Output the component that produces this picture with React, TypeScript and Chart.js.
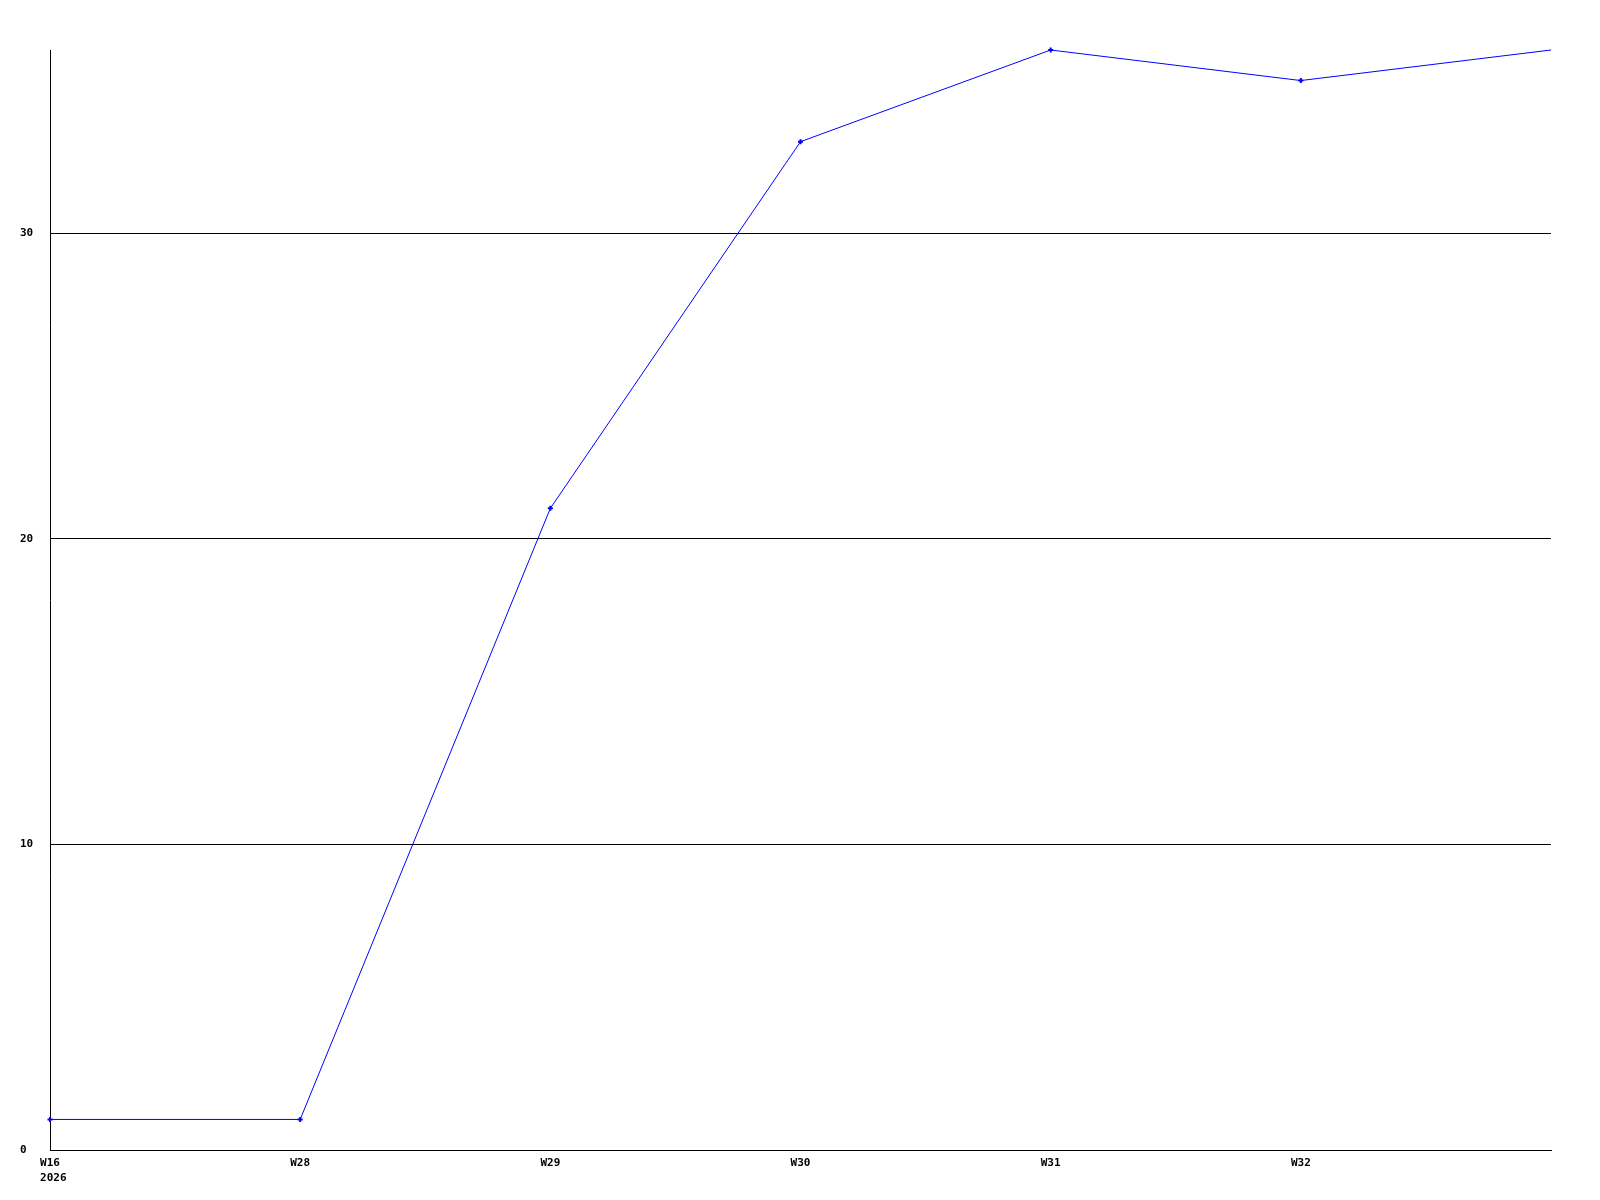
import React, { useEffect, useRef } from "react";
import { Chart, registerables } from "chart.js";

Chart.register(...registerables);

const weekLabels: (string | string[])[] = [["W16", " 2026"], "W28", "W29", "W30", "W31", "W32", ""];
const seriesValues: number[] = [1, 1, 21, 33, 36, 35, 36];
const yTickValues: number[] = [0, 10, 20, 30];

export default function App() {
  const ref = useRef<HTMLCanvasElement | null>(null);

  useEffect(() => {
    document.body.style.margin = "0";
    const canvas = ref.current;
    if (!canvas) return;
    const font = { family: "'DejaVu Sans Mono', monospace", size: 11, weight: "bold" as const, lineHeight: 15 / 11 };
    const last = seriesValues.length - 1;
    const chart = new Chart(canvas, {
      type: "line",
      data: {
        labels: weekLabels,
        datasets: [
          {
            data: seriesValues,
            borderColor: "#0000ff",
            backgroundColor: "#0000ff",
            borderWidth: 1,
            pointStyle: "cross",
            pointRadius: (ctx: any) => (ctx.dataIndex === last ? 0 : 2.5),
            pointBorderWidth: 2,
            pointBorderColor: "#0000ff",
            tension: 0,
            fill: false,
            clip: false,
          },
        ],
      },
      options: {
        animation: false,
        responsive: false,
        devicePixelRatio: 1,
        layout: { padding: { left: 20, top: 50, right: 49, bottom: 0 } },
        plugins: { legend: { display: false }, tooltip: { enabled: false } },
        scales: {
          x: {
            type: "category",
            offset: false,
            grid: { display: false, drawTicks: false },
            border: { display: true, color: "#000000", width: 1 },
            ticks: {
              color: "#000000",
              font,
              padding: 6,
              maxRotation: 0,
              autoSkip: false,
            },
            afterFit: (scale: any) => {
              scale.height = 50;
            },
          },
          y: {
            min: 0,
            max: 36,
            grid: { display: true, color: "#000000", lineWidth: 1, drawTicks: false },
            border: { display: true, color: "#000000", width: 1 },
            ticks: {
              color: "#000000",
              font,
              padding: 0,
              crossAlign: "far",
              includeBounds: false,
            },
            afterBuildTicks: (scale: any) => {
              scale.ticks = yTickValues.map((v) => ({ value: v }));
            },
            afterFit: (scale: any) => {
              scale.width = 30;
            },
          },
        },
      },
    });
    return () => chart.destroy();
  }, []);

  return (
    <canvas
      ref={ref}
      width={1600}
      height={1200}
      style={{ position: "absolute", left: 0, top: 0, width: 1600, height: 1200 }}
    />
  );
}
